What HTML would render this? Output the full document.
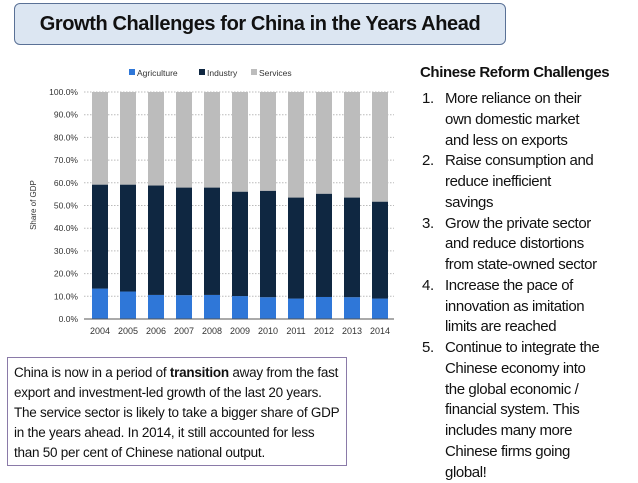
<!DOCTYPE html>
<html><head><meta charset="utf-8"><style>
body{margin:0;width:638px;height:479px;background:#fff;font-family:"Liberation Sans",sans-serif;overflow:hidden;position:relative}
.title{position:absolute;left:14px;top:3px;width:492px;height:42px;border:1.5px solid #5a7196;border-radius:6px;background:#dce6f2;box-sizing:border-box;text-align:center;font-weight:bold;font-size:20px;line-height:40px;color:#111;letter-spacing:-0.4px}
.box{position:absolute;left:7px;top:357px;width:340px;height:109px;border:1.5px solid #8a7aa8;box-sizing:border-box;padding:5px 0 0 6px;font-size:13.5px;line-height:20px;color:#111;white-space:nowrap;letter-spacing:-0.25px}
.rc{position:absolute;left:420px;top:63px;font-size:15px;color:#111;white-space:nowrap;letter-spacing:-0.4px}
.rc .h{font-weight:bold;line-height:20px;margin-bottom:6px}
.rc .l{line-height:20.75px;height:20.75px;position:relative;padding-left:25px}
.rc .n{position:absolute;left:2px}
</style></head><body>
<div class="title">Growth Challenges for China in the Years Ahead</div>
<svg id="chart" width="400" height="345" style="position:absolute;left:0;top:0" font-family="Liberation Sans, sans-serif"></svg>
<div class="box">China is now in a period of <b>transition</b> away from the fast<br>export and investment-led growth of the last 20 years.<br>The service sector is likely to take a bigger share of GDP<br>in the years ahead. In 2014, it still accounted for less<br>than 50 per cent of Chinese national output.</div>
<div class="rc">
<div class="h">Chinese Reform Challenges</div>
<div class="l"><span class="n">1.</span>More reliance on their</div><div class="l">own domestic market</div><div class="l">and less on exports</div>
<div class="l"><span class="n">2.</span>Raise consumption and</div><div class="l">reduce inefficient</div><div class="l">savings</div>
<div class="l"><span class="n">3.</span>Grow the private sector</div><div class="l">and reduce distortions</div><div class="l">from state-owned sector</div>
<div class="l"><span class="n">4.</span>Increase the pace of</div><div class="l">innovation as imitation</div><div class="l">limits are reached</div>
<div class="l"><span class="n">5.</span>Continue to integrate the</div><div class="l">Chinese economy into</div><div class="l">the global economic /</div><div class="l">financial system. This</div><div class="l">includes many more</div><div class="l">Chinese firms going</div><div class="l">global!</div>
</div>
<script>
const years=["2004","2005","2006","2007","2008","2009","2010","2011","2012","2013","2014"];
const agriculture=[13.4,12.1,10.6,10.5,10.6,10.1,9.6,9.0,9.7,9.6,9.0];
const industry=[45.8,47.1,48.2,47.4,47.3,46.0,46.9,44.5,45.5,43.9,42.7];
const services=[40.8,40.8,41.2,42.1,42.1,43.9,43.5,46.5,44.8,46.5,48.3];
const yTicks=[0,10,20,30,40,50,60,70,80,90,100];
const svg=document.getElementById('chart');const NS="http://www.w3.org/2000/svg";
function y(v){return 319-v*2.27}
function x(i){return 100+i*28}
function mk(t,a,p){const e=document.createElementNS(NS,t);for(const k in a)e.setAttribute(k,a[k]);(p||svg).appendChild(e);return e}
yTicks.forEach(t=>{
 if(t>0){const g=mk('line',{x1:84,x2:394,y1:y(t),y2:y(t),stroke:'#bbb','stroke-dasharray':'1.5,1.5'});
 
 }
 const l=mk('text',{x:78,y:y(t)+3,'text-anchor':'end','font-size':'8.5',fill:'#333'});l.textContent=t.toFixed(1)+'%';
 
 
});
const series=[[agriculture,'#2f77d8','agriculture'],[industry,'#0f2741','industry'],[services,'#bcbcbc','services']];
years.forEach((yr,i)=>{let base=0;
 series.forEach(([arr,c,n])=>{const v=arr[i];const r=mk('rect',{x:x(i)-8,width:16,y:y(base+v),height:v*2.27,fill:c});
 
 base+=v;});
 const t=mk('text',{x:x(i),y:334,'text-anchor':'middle','font-size':'9',fill:'#333'});t.textContent=yr;
 
 
});
const ax=mk('line',{x1:84,x2:394,y1:319,y2:319,stroke:'#555','stroke-width':1});


const yt=mk('text',{transform:'translate(36,205) rotate(-90)','text-anchor':'middle','font-size':'8',fill:'#333'});yt.textContent='Share of GDP';


const leg=[['Agriculture','#2f77d8',129],['Industry','#0f2741',199],['Services','#bcbcbc',251]];
leg.forEach(([n,c,lx])=>{const r=mk('rect',{x:lx,y:69,width:6,height:6,fill:c});
 
 
 const t=mk('text',{x:lx+8,y:76,'font-size':'8.5',fill:'#333'});t.textContent=n;
 
 });
</script>
</body></html>
